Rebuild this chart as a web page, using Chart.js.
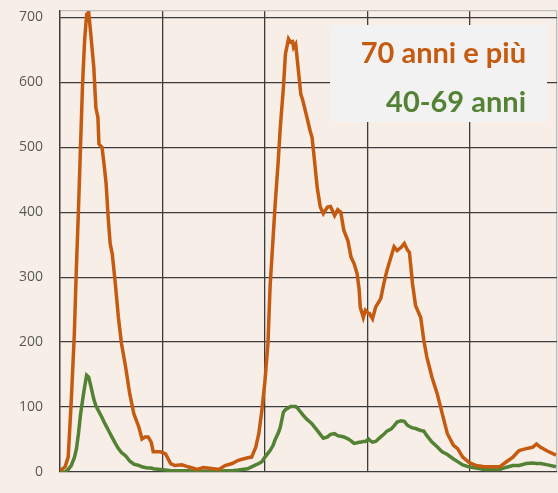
<!DOCTYPE html>
<html>
<head>
<meta charset="utf-8">
<script src="https://cdn.jsdelivr.net/npm/chart.js@4"></script>
<style>
  html, body { margin: 0; padding: 0; background: #F7EEE7; }
  canvas { display: block; }
</style>
</head>
<body>
<canvas id="chart" width="558" height="493"></canvas>
<script>
// Data (giorni dall'inizio, decessi giornalieri)
let giorni = [0,5,8,11,14,16,18,20,22,24,26,28,30,33,35,37,38,41,43,45,47,49,51,54,57,60,64,68,72,77,80,83,86,89,91,98,103,108,112,119,125,134,140,150,155,161,168,174,183,187,191,194,197,200,203,205,208,210,213,215,218,220,223,225,227,228,230,232,235,237,241,244,246,248,251,254,257,261,264,268,271,274,277,281,284,287,290,292,293,296,298,301,302,305,308,313,316,319,323,326,329,333,336,339,341,344,347,352,355,358,363,368,373,378,384,388,393,399,406,414,421,429,435,442,448,455,461,465,469,476,484];
let over70 = [2,8,23,110,213,315,403,500,597,664,705,708,675,623,561,546,505,500,474,444,392,351,336,290,238,198,162,121,90,69,51,54,54,46,31,31,28,13,10,11,8,4,7,5,4,10,13,18,22,23,38,59,95,140,200,285,362,413,480,531,592,644,667,662,663,654,659,628,582,572,546,526,515,485,438,408,398,408,409,395,404,400,372,356,331,321,305,280,254,238,249,244,244,236,254,267,290,310,331,347,341,346,352,342,338,290,256,238,203,177,146,121,90,59,41,36,23,15,10,8,8,8,15,23,33,36,38,43,38,32,26];
let age40to69 = [0,0,4,10,22,35,59,88,110,131,149,146,133,112,102,96,93,84,77,71,65,59,53,44,36,30,25,17,12,10,8,7,6,6,5,4,3,2,2,2,2,1,1,1,1,2,2,3,5,8,11,13,16,23,29,33,41,50,60,69,92,96,99,101,101,101,101,98,92,88,81,77,74,70,64,58,52,54,58,59,56,55,54,51,48,44,45,46,46,47,47,51,49,46,47,54,58,63,66,71,77,79,78,72,70,68,67,64,63,56,46,39,31,27,20,16,11,8,6,4,4,4,7,10,10,13,14,13,13,11,8];
let yTicks = [0,100,200,300,400,500,600,700];
let xGrid = [0,100,200,300,400];

let orange = "#C55A11";
let green = "#548235";

let points = (vals) => giorni.map((g, i) => ({ x: g, y: vals[i] }));

// background + text box
let boxPlugin = {
    id: "box",
    beforeDraw(chart) {
        let c = chart.ctx;
        c.save();
        c.fillStyle = "#F7EEE7";
        c.fillRect(0, 0, chart.width, chart.height);
        c.restore();
    },
    afterDatasetsDraw(chart) {
        let c = chart.ctx;
        c.save();
        c.fillStyle = "#F2F2F2";
        c.fillRect(330, 25, 217, 97);
        c.font = "bold 29px Lato";
        c.textAlign = "right";
        c.textBaseline = "alphabetic";
        let ds = chart.data.datasets;
        c.fillStyle = ds[0].borderColor;
        c.fillText(ds[0].label, 526, 63);
        c.fillStyle = ds[1].borderColor;
        c.fillText(ds[1].label, 526, 112);
        c.restore();
    }
};

new Chart(document.getElementById("chart"), {
    type: "line",
    data: {
        datasets: [{
            label: "70 anni e più",
            data: points(over70),
            borderColor: orange,
            borderWidth: 3.5,
            pointRadius: 0,
            tension: 0
        }, {
            label: "40-69 anni",
            data: points(age40to69),
            borderColor: green,
            borderWidth: 3.5,
            pointRadius: 0,
            tension: 0
        }]
    },
    options: {
        responsive: false,
        animation: false,
        devicePixelRatio: 1,
        layout: { padding: { top: 11, right: 1, bottom: 21, left: 0 } },
        plugins: {
            legend: { display: false },
            tooltip: { enabled: false }
        },
        scales: {
            x: {
                type: "linear",
                min: 0,
                max: 485,
                afterBuildTicks: (s) => { s.ticks = xGrid.concat([485]).map(v => ({ value: v })); },
                ticks: { display: false },
                border: { display: false },
                grid: {
                    drawTicks: false,
                    lineWidth: 1.3,
                    color: (ctx) => ctx.tick && ctx.tick.value === 485 ? "#BDBDBD" : "#3C3C3C"
                }
            },
            y: {
                min: 0,
                max: 710,
                afterBuildTicks: (s) => { s.ticks = yTicks.concat([710]).map(v => ({ value: v })); },
                afterFit: (s) => { s.width = 60; s.paddingTop = 0; s.paddingBottom = 0; },
                ticks: {
                    padding: 17,
                    color: "#595959",
                    font: { family: "Open Sans", size: 14 },
                    callback: (v) => v === 710 ? "" : v
                },
                border: { display: true, color: "#3C3C3C", width: 1.3 },
                grid: {
                    drawTicks: false,
                    lineWidth: 1.3,
                    color: (ctx) => ctx.tick && ctx.tick.value === 710 ? "#BDBDBD" : "#3C3C3C"
                }
            }
        }
    },
    plugins: [boxPlugin]
});
</script>
</body>
</html>
